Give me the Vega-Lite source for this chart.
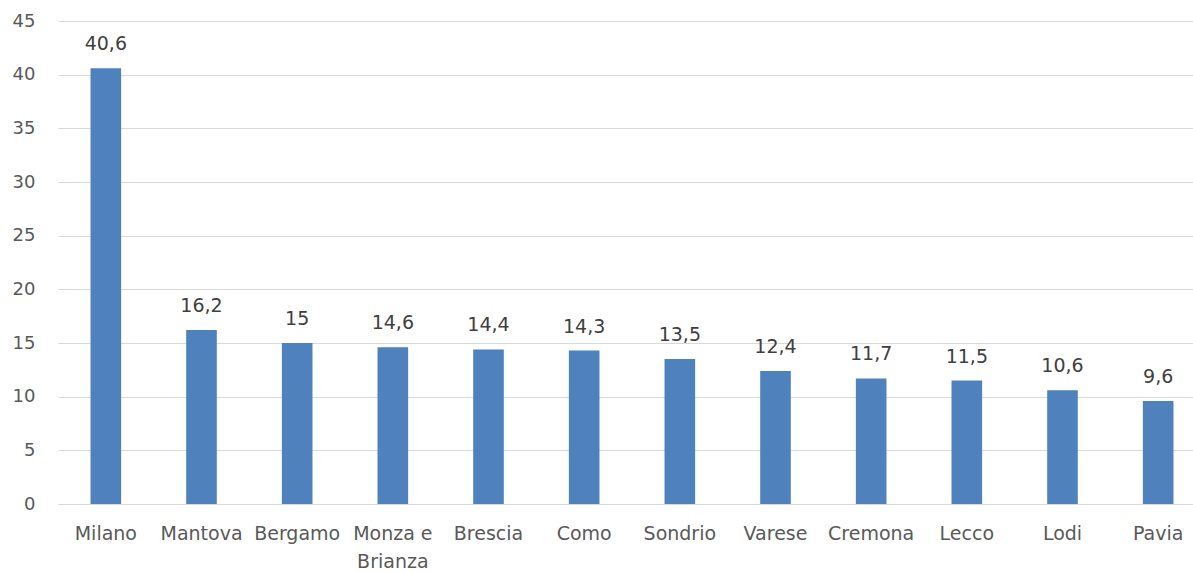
{
  "$schema": "https://vega.github.io/schema/vega-lite/v6.json",
  "width": 1135,
  "height": 483,
  "autosize": {"type": "none"},
  "padding": {"left": 58, "top": 21, "right": 0, "bottom": 69},
  "background": "white",
  "config": {
    "view": {"stroke": null},
    "locale": {"number": {"decimal": ",", "thousands": ".", "grouping": [3], "currency": ["", " €"]}}
  },
  "data": {"values": [
    {"provincia": "Milano", "valore": 40.6},
    {"provincia": "Mantova", "valore": 16.2},
    {"provincia": "Bergamo", "valore": 15},
    {"provincia": "Monza e Brianza", "valore": 14.6},
    {"provincia": "Brescia", "valore": 14.4},
    {"provincia": "Como", "valore": 14.3},
    {"provincia": "Sondrio", "valore": 13.5},
    {"provincia": "Varese", "valore": 12.4},
    {"provincia": "Cremona", "valore": 11.7},
    {"provincia": "Lecco", "valore": 11.5},
    {"provincia": "Lodi", "valore": 10.6},
    {"provincia": "Pavia", "valore": 9.6}
  ]},
  "encoding": {
    "x": {
      "field": "provincia", "type": "nominal", "sort": null,
      "scale": {"paddingInner": 0.68, "paddingOuter": 0.34, "range": [0, 1148]},
      "axis": {
        "title": null, "domain": false, "ticks": false, "labelAngle": 0,
        "labelFont": "DejaVu Sans", "labelFontSize": 19, "labelColor": "#595959",
        "labelPadding": 20, "labelLineHeight": 28,
        "labelExpr": "datum.value == 'Monza e Brianza' ? ['Monza e', 'Brianza'] : datum.value"
      }
    },
    "y": {
      "field": "valore", "type": "quantitative",
      "scale": {"domain": [0, 45], "nice": false},
      "axis": {
        "title": null, "domain": false, "ticks": false, "values": [0,5,10,15,20,25,30,35,40,45],
        "labelFont": "DejaVu Sans", "labelFontSize": 18, "labelColor": "#595959",
        "labelPadding": 23, "gridColor": "#d9d9d9", "gridWidth": 1
      }
    }
  },
  "layer": [
    {"mark": {"type": "bar", "color": "#4f81bd"}},
    {"mark": {"type": "text", "dy": -14, "baseline": "bottom", "font": "DejaVu Sans", "fontSize": 19, "color": "#404040"},
     "encoding": {"text": {"field": "valore", "type": "quantitative", "format": ".1~f"}}}
  ]
}
